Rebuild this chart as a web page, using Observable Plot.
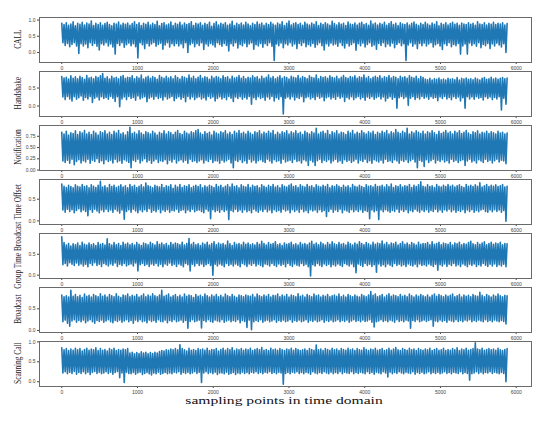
<!DOCTYPE html>
<html>
<head>
<meta charset="utf-8">
<script src="https://cdn.jsdelivr.net/npm/d3@7"></script>
<script src="https://cdn.jsdelivr.net/npm/@observablehq/plot@0.6"></script>
<style>
  html, body { margin: 0; padding: 0; background: #fff; }
  #wrap { position: relative; width: 550px; height: 422px; background: #fff; overflow: hidden; }
  .panel { position: absolute; left: 0; }
  .panel svg { overflow: visible; }
  #overlay { position: absolute; left: 0; top: 0; }
</style>
</head>
<body>
<div id="wrap"></div>
<script>
// ---- data: sample spacing between stored readings ----
const STEP = 15;
const seriesNames = ["CALL", "Handshake", "Notification", "Time Offset", "Group Time Broadcast", "Broadcast", "Scanning Call"];
const xTicks = [0, 1000, 2000, 3000, 4000, 5000, 6000];
const xLabel = "sampling points in time domain";

const callValues = [
.9,.3,.86,.22,.92,.28,.84,.18,.88,.25,.95,.3,.82,.2,.9,-.03,.87,.27,.93,.2,
.85,.26,.91,.15,.88,.3,.97,.22,.83,.28,.9,.19,.86,.08,.92,.27,.84,.23,.89,.3,
.93,.2,.86,.26,.82,.17,.9,-.05,.88,.28,.94,.22,.85,.3,.9,.16,.87,.24,.91,.29,
.84,.21,.89,.27,.95,.18,.86,-.17,.92,.3,.83,.24,.9,.12,.87,.28,.93,.2,.85,.26,
.9,.31,.86,.19,.96,.25,.82,.29,.89,.1,.92,.23,.85,.3,.88,.17,.94,.27,.83,.21,
.9,.28,.87,.2,.93,.26,.85,.15,.91,.3,.86,.0,.89,.24,.95,.29,.83,.18,.9,.27,
.88,.22,.92,.3,.84,.09,.9,.26,.86,.2,.93,.28,.81,.23,.89,.17,.95,.3,.85,.25,
.9,.19,.87,.28,.92,.22,.84,.05,.88,.27,.96,.2,.83,.3,.9,.14,.86,.25,.91,.21,
.85,.29,.93,.18,.88,.26,.82,.3,.9,.1,.86,.24,.94,.2,.87,.28,.91,.16,.84,.27,
.9,.22,.86,.3,.93,.19,.88,-.25,.84,.26,.91,.21,.87,.29,.95,.15,.83,.27,.9,.23,
.97,.3,.85,.2,.89,.26,.92,.12,.86,.28,.9,.22,.84,.3,.93,.18,.88,.25,.85,.2,
.91,.28,.87,.16,.95,.24,.83,.3,.9,.21,.86,.08,.92,.27,.88,.2,.84,.29,.96,.23,
.89,.26,.85,.19,.92,.3,.87,.22,.9,.14,.83,.28,.94,.2,.88,.25,.86,.3,.91,.07,
.85,.27,.9,.21,.93,.29,.86,.17,.89,.25,.84,.3,.97,.19,.88,.23,.91,.1,.85,.28,
.9,.22,.87,.3,.93,.18,.84,.26,.89,.2,.95,.29,.86,.15,.9,.25,.83,.3,.92,.21,
.88,.27,.86,-.25,.91,.23,.85,.3,.9,.19,.94,.26,.87,.12,.83,.28,.9,.21,.86,.29,
.93,.2,.88,.26,.84,.3,.91,.17,.87,.24,.95,.28,.82,.2,.9,.09,.86,.27,.92,.22,
.85,.3,.89,.18,.93,.25,.87,.21,.9,.28,.84,-.05,.91,.2,.88,.26,.86,-.05,.92,.29,
.87,.22,.9,.27,.84,.19,.95,.3,.88,.15,.86,.25,.92,.21,.85,.28,.9,.12,.87,.26,
.93,.2,.86,.29,.9,.23,.88,.17,.92,.27,.85,.0,.89];

const handshakeValues = [
.82,.25,.78,.18,.8,.27,.75,.2,.84,.14,.77,.26,.81,.19,.76,.23,.83,.28,.79,.16,
.74,.24,.85,.2,.78,.27,.8,.1,.76,.22,.82,.25,.79,.17,.84,.26,.9,.21,.77,.24,
.81,.19,.75,.27,.83,.22,.78,.13,.8,.26,.76,-.02,.82,.2,.85,.25,.77,.18,.8,.27,
.79,.21,.84,.24,.76,.16,.81,.28,.78,.2,.86,.23,.75,.26,.8,.12,.83,.22,.77,.25,
.82,.19,.79,.27,.74,.21,.85,.24,.8,.17,.77,.26,.83,.2,.78,.23,.81,.27,.76,.15,
.84,.22,.79,.26,.75,.19,.82,.24,.8,.12,.77,.27,.86,.2,.78,.25,.83,.18,.76,.23,
.8,.26,.85,.2,.77,.23,.81,.17,.79,.27,.74,.22,.83,.25,.78,.14,.82,.21,.8,.26,
.76,.2,.84,.24,.79,.18,.81,.27,.75,.22,.83,.13,.78,.25,.8,.21,.85,.26,.77,.19,
.82,.24,.76,.2,.8,.27,.78,.05,.84,.23,.79,.18,.81,.26,.75,.21,.83,.24,.77,.16,
.8,.25,.86,.2,.78,.27,.82,.14,.76,.23,.8,.19,.84,.26,.77,-.22,.81,.22,.79,.25,
.75,.2,.83,.26,.8,.17,.78,.24,.85,.21,.77,.27,.82,.12,.79,.23,.76,.26,.84,.2,
.8,.24,.78,.18,.86,.27,.76,.22,.82,.25,.79,.15,.81,.23,.77,.26,.84,.2,.8,.24,
.78,.19,.83,.27,.76,.22,.8,.25,.85,.13,.79,.24,.77,.2,.82,.26,.8,.18,.84,.23,
.77,.27,.81,.2,.79,.24,.86,.16,.78,.25,.82,.21,.76,.26,.8,.19,.83,.23,.79,.27,
.84,.2,.77,.25,.81,.14,.79,.22,.85,.26,.78,.19,.82,.24,.8,-.06,.76,.23,.83,.27,
.79,.21,.81,.25,.77,.02,.84,.22,.8,.26,.78,.18,.83,.24,.76,.2,.82,.27,.79,.22,
.75,.25,.73,.19,.77,.26,.72,.22,.76,.24,.74,.15,.78,.25,.73,.21,.75,.27,.72,.2,
.77,.24,.74,.18,.76,.26,.73,.21,.79,.25,.72,.14,.77,.23,.75,-.06,.78,.26,.74,.2,
.76,.25,.73,.19,.78,.26,.75,.22,.72,.24,.77,.17,.79,.26,.74,.21,.76,.25,.8,.18,
.75,.24,.78,.2,.74,.26,.77,-.11,.79,.22,.76,.05,.78];

const notificationValues = [
.84,.2,.8,.17,.86,.22,.78,.15,.83,.24,.81,.12,.87,.19,.79,.23,.85,.16,.82,.21,
.88,.18,.8,.24,.84,.15,.79,.22,.86,.19,.82,.25,.78,.17,.85,.21,.83,.14,.87,.23,
.8,.19,.84,.22,.79,.16,.86,.24,.82,.18,.88,.21,.8,.15,.83,.23,.78,.2,.85,.17,
.95,.05,.81,.22,.84,.19,.8,.24,.87,.16,.82,.21,.79,.25,.85,.18,.83,.22,.8,.15,
.86,.2,.82,.24,.78,.17,.84,.21,.81,.19,.87,.23,.8,.14,.85,.22,.83,.18,.79,.24,
.84,.16,.88,.21,.81,.23,.79,.18,.86,.22,.82,.15,.8,.24,.85,.19,.83,.21,.87,.17,
.9,.2,.82,.23,.79,.16,.85,.22,.81,.19,.84,.24,.78,.17,.86,.21,.82,.2,.8,.15,
.85,.22,.83,.18,.87,.21,.8,.24,.84,.16,.79,.05,.86,.22,.82,.19,.88,.23,.81,.17,
.84,.21,.8,.15,.86,.24,.82,.18,.79,.22,.85,.16,.83,.21,.87,.23,.8,.19,.84,.17,
.81,.24,.86,.2,.82,.16,.88,.23,.79,.19,.84,.21,.8,.15,.85,.24,.83,.18,.87,.2,
.8,.22,.85,.17,.82,.24,.87,.19,.81,.21,.84,.16,.79,.23,.86,.2,.83,.1,.8,.22,
.85,.18,.82,.1,.93,.21,.8,.24,.84,.17,.86,.22,.81,.19,.88,.23,.79,.16,.85,.2,
.82,.24,.87,.18,.8,.21,.84,.15,.83,.23,.79,.19,.86,.22,.82,.17,.88,.2,.8,.24,
.84,.16,.81,.22,.87,.19,.83,.24,.8,.17,.85,.21,.82,.15,.86,.23,.79,.2,.84,.18,
.81,.22,.86,.16,.83,.24,.88,.19,.8,.21,.85,.17,.82,.23,.9,.2,.84,.15,.81,.22,
.86,.19,.83,.23,.93,.17,.8,.21,.85,.24,.82,.18,.87,.05,.84,.22,.81,.19,.86,.08,
.8,.23,.85,.17,.82,.21,.87,.24,.83,.16,.79,.22,.86,.19,.81,.23,.84,.18,.88,.21,
.82,.16,.85,.24,.8,.19,.86,.22,.83,.17,.87,.21,.81,.23,.84,.1,.88,.2,.82,.24,
.79,.18,.85,.21,.83,.16,.87,.23,.8,.2,.84,.17,.82,.24,.86,.19,.81,.22,.85,.16,
.83,.21,.8,.24,.86,.18,.82,.22,.84,.2,.8,.14,.82];

const timeOffsetValues = [
.85,.25,.8,.2,.77,.27,.82,.22,.79,.26,.76,.19,.83,.24,.8,.28,.78,.21,.84,.25,
.79,.22,.81,.12,.76,.26,.83,.2,.8,.27,.77,.23,.82,.19,.91,.25,.78,.21,.81,.27,
.76,.22,.84,.25,.79,.2,.82,.27,.77,.23,.8,.18,.83,.25,.78,.04,.81,.22,.76,.26,
.84,.2,.79,.27,.82,.23,.77,.19,.8,.25,.83,.21,.78,.26,.87,.22,.81,.28,.79,.2,
.76,.24,.82,.21,.8,.27,.78,.19,.84,.25,.77,.22,.81,.26,.79,.2,.83,.24,.75,.23,
.82,.27,.78,.2,.84,.24,.77,.26,.81,.19,.79,.25,.83,.22,.76,.27,.8,.21,.82,.24,
.79,.25,.83,.22,.76,.19,.81,.27,.78,.23,.82,.05,.8,.26,.77,.21,.84,.24,.79,.2,
.82,.26,.77,.22,.8,.25,.83,.03,.78,.24,.85,.21,.79,.27,.81,.22,.76,.25,.83,.2,
.8,.26,.78,.21,.84,.24,.77,.19,.82,.27,.79,.23,.81,.2,.76,.25,.83,.22,.8,.27,
.77,.21,.82,.25,.79,.19,.84,.26,.78,.22,.81,.24,.76,.2,.83,.27,.8,.23,.78,.25,
.82,.19,.85,.26,.79,.22,.81,.25,.77,.2,.83,.27,.8,.21,.78,.24,.84,.19,.79,.26,
.81,.23,.77,.25,.83,.2,.8,.26,.78,.21,.82,.24,.79,.1,.84,.22,.76,.27,.81,.2,
.79,.25,.83,.22,.8,.27,.77,.19,.82,.25,.78,.23,.81,.2,.76,.26,.84,.21,.8,.25,
.78,.22,.82,.26,.79,.2,.77,.24,.83,.22,.8,.05,.81,.25,.78,.21,.84,.24,.79,.03,
.8,.25,.82,.21,.78,.26,.83,.23,.79,.2,.85,.24,.77,.22,.81,.27,.79,.2,.83,.25,
.78,.22,.81,.26,.8,.19,.84,.24,.77,.21,.82,.27,.79,.23,.83,.2,.9,.25,.8,.22,
.78,.26,.83,.2,.79,.24,.81,.22,.77,.27,.84,.21,.8,.25,.78,.2,.82,.26,.79,.23,
.84,.27,.8,.21,.82,.25,.78,.2,.81,.24,.83,.22,.79,.26,.77,.19,.84,.25,.8,.22,
.82,.26,.79,.2,.83,.24,.8,.21,.88,.25,.78,.27,.81,.22,.84,.2,.79,.25,.82,.21,
.8,.26,.83,.22,.79,.25,.81,.2,.84,.24,.78,-.01,.8];

const groupBroadcastValues = [
.92,.25,.78,.28,.72,.22,.76,.3,.7,.26,.75,.23,.73,.29,.77,.24,.71,.27,.79,.22,
.74,.26,.72,.2,.77,.28,.73,.24,.75,.3,.71,.23,.78,.26,.74,.21,.76,.28,.72,.25,
.87,.22,.75,.27,.72,.24,.78,.29,.73,.21,.76,.26,.71,.23,.79,.28,.74,.22,.77,.25,
.73,.27,.76,.22,.72,.29,.78,.1,.74,.25,.71,.28,.77,.23,.75,.26,.73,.21,.79,.27,
.75,.24,.72,.28,.8,.22,.74,.26,.77,.2,.73,.27,.76,.24,.71,.29,.78,.23,.74,.26,
.77,.21,.75,.27,.73,.24,.79,.2,.72,.28,.76,.25,.88,.1,.74,.26,.78,.22,.73,.28,
.75,.23,.71,.27,.77,.21,.74,.25,.79,.28,.72,.23,.76,.0,.8,.26,.73,.22,.77,.27,
.74,.24,.76,.2,.72,.28,.82,.23,.75,.26,.71,.22,.78,.27,.74,.24,.76,.2,.73,.28,
.79,.25,.74,.21,.77,.27,.73,.24,.75,.28,.72,.22,.78,.26,.74,.23,.81,.2,.76,.27,
.72,.25,.78,.22,.74,.28,.76,.24,.8,.21,.73,.27,.75,.23,.71,.26,.77,.2,.74,.28,
.76,.24,.79,.21,.73,.27,.75,.24,.72,.22,.78,.28,.74,.23,.76,.26,.73,.2,.77,-.02,
.81,.25,.74,.22,.77,.28,.73,.24,.79,.21,.75,.27,.72,.23,.78,.26,.74,.2,.8,.25,
.75,.22,.73,.27,.78,.24,.74,.21,.76,.28,.72,.25,.79,.22,.75,.27,.72,.2,.77,.06,
.74,.27,.8,.24,.76,.21,.73,.28,.78,.23,.75,.26,.72,.21,.79,.25,.74,.07,.77,.27,
.75,.22,.82,.25,.74,.2,.78,.27,.73,.24,.77,.21,.75,.28,.79,.23,.72,.26,.76,.22,
.8,.25,.74,.21,.77,.27,.73,.24,.78,.22,.75,.26,.72,.2,.79,.27,.74,.23,.76,.25,
.75,.22,.78,.27,.73,.24,.8,.21,.74,.26,.76,.12,.79,.25,.73,.22,.77,.27,.75,.21,
.74,.26,.78,.23,.72,.28,.77,.22,.75,.25,.79,.21,.73,.27,.76,.24,.74,.2,.78,.26,
.81,.23,.75,.27,.73,.21,.78,.25,.74,.22,.77,.28,.8,.24,.73,.21,.76,.26,.79,.22,
.74,.27,.77,.21,.75,.25,.79,.22,.73,.26,.76,.2,.75];

const broadcastValues = [
.82,.2,.78,.24,.8,.17,.77,.1,.93,.22,.79,.25,.83,.19,.78,.23,.81,.2,.76,.24,
.84,.18,.79,.22,.81,.25,.77,.2,.83,.17,.8,.23,.78,.21,.85,.24,.79,.19,.82,.22,
.77,.25,.83,.2,.8,.18,.78,.23,.85,.21,.79,.24,.76,.19,.82,.22,.8,.25,.84,.2,
.78,.23,.81,.17,.79,.24,.83,.21,.77,.25,.8,.2,.84,.22,.78,.18,.82,.24,.79,.21,
.85,.23,.8,.19,.78,.25,.82,.21,.93,.2,.79,.24,.81,.18,.84,.23,.77,.21,.8,.25,
.83,.2,.78,.22,.81,.24,.77,.19,.84,.23,.79,.05,.82,.21,.8,.25,.76,.2,.83,.22,
.79,.24,.81,.06,.78,.23,.84,.2,.8,.25,.77,.21,.82,.19,.79,.24,.83,.22,.78,.2,
.81,.25,.77,.19,.84,.22,.8,.24,.78,.2,.83,.23,.79,.21,.76,.25,.82,.18,.8,.23,
.78,.21,.82,.07,.8,.24,.79,.02,.83,.2,.77,.23,.84,.21,.8,.25,.78,.19,.82,.22,
.79,.24,.83,.2,.77,.22,.81,.25,.8,.19,.84,.23,.78,.21,.82,.24,.79,.2,.83,.22,
.77,.25,.82,.19,.8,.23,.78,.21,.85,.24,.79,.2,.81,.22,.77,.25,.83,.19,.8,.23,
.78,.21,.84,.24,.8,.2,.82,.22,.77,.25,.81,.19,.79,.23,.83,.21,.78,.24,.8,.2,
.82,.22,.79,.25,.84,.2,.78,.23,.81,.21,.77,.24,.83,.19,.8,.22,.78,.25,.82,.21,
.79,.23,.77,.2,.83,.24,.8,.21,.78,.22,.82,.25,.9,.19,.81,.08,.84,.2,.78,.22,
.8,.25,.83,.21,.77,.23,.81,.2,.85,.24,.79,.22,.82,.19,.8,.25,.78,.21,.83,.23,
.79,.2,.81,.24,.78,.22,.84,.05,.8,.23,.77,.21,.82,.25,.79,.2,.83,.22,.8,.24,
.78,.21,.82,.23,.77,.25,.81,.1,.84,.22,.79,.2,.83,.24,.8,.21,.78,.23,.82,.19,
.79,.24,.81,.22,.84,.2,.78,.25,.8,.21,.83,.23,.77,.2,.82,.24,.79,.22,.81,.25,
.78,.2,.83,.23,.8,.21,.79,.24,.88,.22,.81,.2,.78,.25,.83,.21,.8,.23,.77,.2,
.82,.24,.79,.22,.84,.2,.8,.23,.78,.21,.81,.15,.8];

const scanningCallValues = [
.85,.22,.8,.25,.83,.2,.78,.24,.82,.21,.79,.26,.84,.19,.8,.23,.83,.21,.77,.25,
.81,.2,.84,.24,.79,.18,.82,.23,.8,.26,.85,.21,.78,.24,.83,.2,.79,.22,.81,.25,
.77,.21,.83,.24,.8,.19,.84,.23,.78,.26,.81,.1,.79,.22,.82,-.02,.8,.24,.83,.21,
.72,.2,.74,.23,.7,.19,.73,.22,.71,.24,.75,.18,.72,.21,.74,.23,.7,.2,.73,.17,
.71,.22,.74,.2,.72,.24,.76,.19,.78,.21,.77,.23,.8,.2,.79,.22,.82,.2,.8,.24,
.83,.22,.8,.25,.93,.19,.83,.23,.8,.21,.77,.24,.84,.2,.79,.22,.81,.25,.78,.21,
.83,.24,.8,-.02,.82,.22,.79,.25,.84,.21,.78,.23,.81,.2,.8,.24,.83,.18,.77,.22,
.81,.22,.84,.2,.79,.24,.83,.19,.8,.21,.85,.23,.78,.18,.82,.22,.8,.2,.83,.24,
.79,.21,.82,.23,.8,.2,.84,.24,.78,.22,.81,.25,.83,.21,.8,.23,.86,.2,.79,.24,
.81,.22,.78,.25,.84,.21,.8,.23,.82,.2,.79,.24,.83,.22,.8,-.06,.78,.21,.82,.23,
.8,.2,.84,.24,.79,.22,.83,.25,.81,.21,.78,.23,.8,.2,.82,.24,.78,.22,.83,.19,
.81,.25,.79,.22,.92,.2,.8,.23,.82,.21,.78,.25,.83,.22,.81,.2,.79,.24,.84,.2,
.8,.23,.82,.21,.78,.25,.83,.2,.81,.24,.79,.22,.84,.21,.8,.25,.82,.2,.78,.23,
.83,.21,.8,.24,.79,.22,.85,.2,.81,.25,.78,.21,.82,.23,.8,.19,.84,.24,.79,.22,
.81,.2,.83,.25,.78,.22,.8,.12,.84,.24,.79,.2,.82,.23,.86,.21,.8,.25,.78,.22,
.83,.2,.81,.24,.79,.22,.84,.21,.8,.25,.82,.19,.78,.23,.83,.21,.8,.24,.79,.2,
.82,.22,.8,.25,.84,.2,.78,.23,.81,.21,.83,.24,.79,.2,.8,.22,.84,.25,.78,.21,
.81,.23,.79,.2,.83,.24,.8,.22,.85,.21,.78,.25,.82,.2,.8,.23,.84,.21,.79,.04,
.81,.2,.83,.22,.98,.25,.82,.21,.8,.24,.84,.2,.79,.23,.81,.22,.83,.25,.8,.21,
.82,.24,.79,.22,.84,.2,.8,.23,.78,.21,.81,.0,.83];

const seriesValues = [callValues, handshakeValues, notificationValues, timeOffsetValues, groupBroadcastValues, broadcastValues, scanningCallValues];

// y tick values per panel
const yTickValues = [
  [0, 0.5, 1.0],
  [0, 0.5],
  [0, 0.25, 0.5, 0.75],
  [0, 0.5],
  [0, 0.5],
  [0, 0.5],
  [0, 0.5, 1.0]
];
const yTickDigits = [1, 1, 2, 1, 1, 1, 1];

// ---- layout ----
const yDomains = [
  [-0.31, 1.08],
  [-0.29, 0.96],
  [-0.01, 0.99],
  [-0.083, 0.954],
  [-0.08, 0.998],
  [-0.047, 0.993],
  [-0.12, 1.01]
];
const frameTops = [16.7, 70.7, 124.5, 179.3, 232.7, 286.7, 340.7];
const frameH = 45;
const mTop = 4, mBottom = 12, mLeft = 39, mRight = 19;

const wrap = document.getElementById("wrap");

seriesValues.forEach((vals, p) => {
  const chart = Plot.plot({
    width: 550,
    height: frameH + mTop + mBottom,
    marginTop: mTop,
    marginBottom: mBottom,
    marginLeft: mLeft,
    marginRight: mRight,
    style: { fontSize: "5px", fontFamily: "Liberation Sans, Arial, sans-serif", color: "#444", background: "transparent", overflow: "visible" },
    x: {
      domain: [-294, 6202],
      ticks: xTicks,
      tickFormat: d3.format("d"),
      tickSize: 2,
      tickPadding: 1.5,
      label: null
    },
    y: {
      domain: yDomains[p],
      ticks: yTickValues[p],
      tickFormat: d3.format("." + yTickDigits[p] + "f"),
      tickSize: 2,
      tickPadding: 2,
      label: null
    },
    marks: [
      Plot.line(vals, { x: (d, i) => i * STEP, y: d => d, stroke: "#1f77b4", strokeWidth: 1.6 }),
      Plot.frame({ stroke: "#6a6a6a", strokeWidth: 1 })
    ]
  });
  const div = document.createElement("div");
  div.className = "panel";
  div.style.top = (frameTops[p] - mTop) + "px";
  div.appendChild(chart);
  wrap.appendChild(div);
});

// overlay for axis titles
const svg = d3.select(wrap).append("svg")
  .attr("id", "overlay")
  .attr("width", 550).attr("height", 422);

seriesNames.forEach((name, p) => {
  const cy = frameTops[p] + frameH / 2;
  svg.append("text")
    .attr("transform", `translate(20.5,${cy}) rotate(-90) scale(0.7,1)`)
    .attr("text-anchor", "middle")
    .attr("font-family", "Liberation Serif, Times New Roman, serif")
    .attr("font-size", 10.5)
    .attr("fill", "#222")
    .text(name);
});

svg.append("text")
  .attr("transform", "translate(284,403.5) scale(1,0.72)")
  .attr("text-anchor", "middle")
  .attr("font-family", "Liberation Serif, Times New Roman, serif")
  .attr("font-size", 15.6)
  .attr("fill", "#111")
  .text(xLabel);
</script>
</body>
</html>
